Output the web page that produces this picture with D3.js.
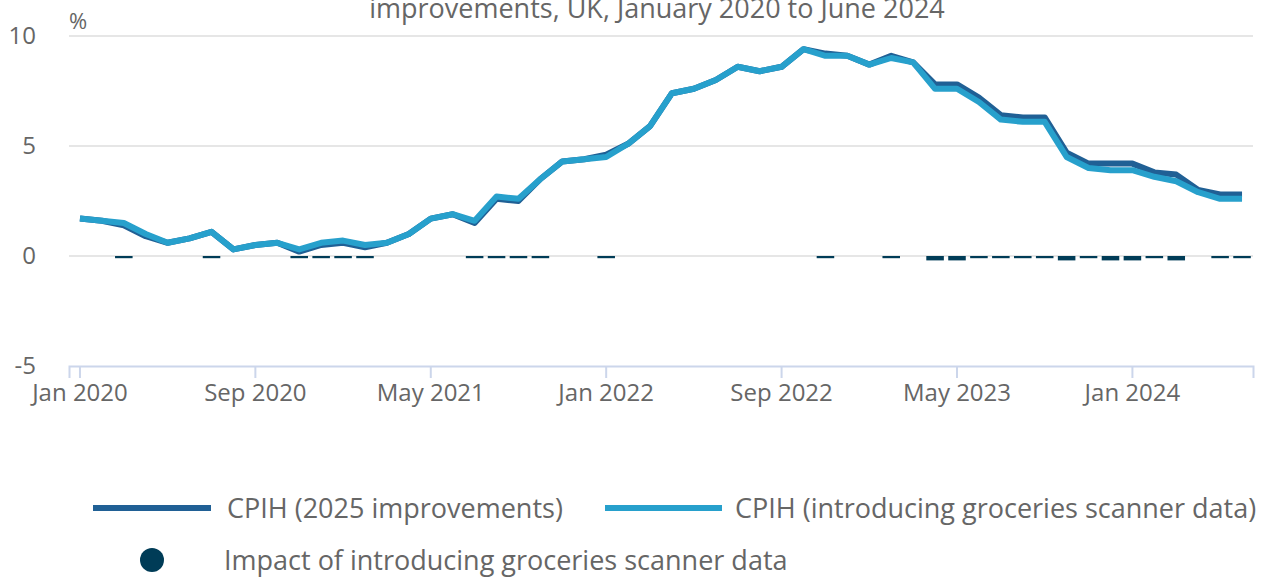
<!DOCTYPE html>
<meta charset="utf-8">
<head>
<style>
  body { margin: 0; background: #fff; }
  text { font-family: "Open Sans", sans-serif; fill: #666; }
</style>
</head>
<body>
<svg id="chart"></svg>
<script src="https://d3js.org/d3.v7.min.js"></script>
<script>

// months Jan 2020 .. Jun 2024
var monthNames = ["Jan","Feb","Mar","Apr","May","Jun","Jul","Aug","Sep","Oct","Nov","Dec"];
var months = [];
for (var yr = 2020; yr <= 2024; yr++) {
  for (var m = 0; m < 12; m++) {
    if (yr == 2024 && m > 5) break;
    months.push(monthNames[m] + " " + yr);
  }
}

var cpih2025 = [1.7, 1.6, 1.4, 0.9, 0.6, 0.8, 1.1, 0.3, 0.5, 0.6, 0.2, 0.5,
                0.6, 0.4, 0.6, 1.0, 1.7, 1.9, 1.5, 2.6, 2.5, 3.5, 4.3, 4.4,
                4.6, 5.1, 5.9, 7.4, 7.6, 8.0, 8.6, 8.4, 8.6, 9.4, 9.2, 9.1,
                8.7, 9.1, 8.8, 7.8, 7.8, 7.2, 6.4, 6.3, 6.3, 4.7, 4.2, 4.2,
                4.2, 3.8, 3.7, 3.0, 2.8, 2.8];

var cpihScanner = [1.7, 1.6, 1.5, 1.0, 0.6, 0.8, 1.1, 0.3, 0.5, 0.6, 0.3, 0.6,
                   0.7, 0.5, 0.6, 1.0, 1.7, 1.9, 1.6, 2.7, 2.6, 3.5, 4.3, 4.4,
                   4.5, 5.1, 5.9, 7.4, 7.6, 8.0, 8.6, 8.4, 8.6, 9.4, 9.1, 9.1,
                   8.7, 9.0, 8.8, 7.6, 7.6, 7.0, 6.2, 6.1, 6.1, 4.5, 4.0, 3.9,
                   3.9, 3.6, 3.4, 2.9, 2.6, 2.6];

var impact = [0, 0, -0.1, 0, 0, 0, -0.1, 0, 0, 0, -0.1, -0.1,
              -0.1, -0.1, 0, 0, 0, 0, -0.1, -0.1, -0.1, -0.1, 0, 0,
              -0.1, 0, 0, 0, 0, 0, 0, 0, 0, 0, -0.1, 0,
              0, -0.1, 0, -0.2, -0.2, -0.1, -0.1, -0.1, -0.1, -0.2, -0.1, -0.2,
              -0.2, -0.1, -0.2, 0, -0.1, -0.1];

var yTicks = [-5, 0, 5, 10];
var xTickEvery = 8;

var colDark = "#206095", colLight = "#27a0cc", colImpact = "#003c57";

var W = 1264, H = 580;
var svg = d3.select("#chart").attr("width", W).attr("height", H);

var x = d3.scaleBand()
    .domain(months)
    .range([69, 1253])
    .paddingInner(0.2)
    .paddingOuter(0.1);

var y = d3.scaleLinear()
    .domain([-5, 10])
    .range([366, 36]);

var cx = function(i) { return x(months[i]) + x.bandwidth() / 2; };

// title (only its second line shows, as in the source)
svg.append("text")
    .attr("x", 657).attr("y", 18)
    .attr("text-anchor", "middle")
    .style("font-size", "27px")
    .text("improvements, UK, January 2020 to June 2024");

// gridlines
svg.append("g").selectAll("line")
    .data(yTicks.filter(function(d) { return d != -5; }))
  .enter().append("line")
    .attr("x1", 69).attr("x2", 1253)
    .attr("y1", function(d) { return y(d); })
    .attr("y2", function(d) { return y(d); })
    .attr("stroke", "#e6e6e6")
    .attr("stroke-width", 2);

// y labels
svg.append("g").selectAll("text")
    .data(yTicks)
  .enter().append("text")
    .attr("x", 36)
    .attr("y", function(d) { return y(d) + 8; })
    .attr("text-anchor", "end")
    .style("font-size", "24px")
    .text(function(d) { return d; });

svg.append("text")
    .attr("x", 69).attr("y", 29)
    .style("font-size", "22px")
    .text("%");

// x axis
var xAxis = d3.axisBottom(x)
    .tickValues(months.filter(function(d, i) { return i % xTickEvery == 0; }))
    .tickSize(12)
    .tickPadding(6);

var gx = svg.append("g")
    .attr("transform", "translate(0," + y(-5) + ")")
    .call(xAxis);
gx.select(".domain").attr("stroke", "#ccd6eb").attr("stroke-width", 2);
gx.selectAll(".tick line").attr("stroke", "#ccd6eb").attr("stroke-width", 2);
gx.selectAll(".tick text")
    .style("font-size", "24px")
    .style("font-family", "Open Sans, sans-serif")
    .attr("fill", "#666");

// impact bars
svg.append("g").selectAll("rect")
    .data(impact)
  .enter().append("rect")
    .attr("x", function(d, i) { return x(months[i]); })
    .attr("width", x.bandwidth())
    .attr("y", function(d) { return Math.min(y(0), y(d)); })
    .attr("height", function(d) { return Math.abs(y(d) - y(0)); })
    .attr("fill", colImpact);

// lines
var line = d3.line()
    .x(function(d, i) { return cx(i); })
    .y(function(d) { return y(d); });

svg.append("path")
    .datum(cpih2025)
    .attr("d", line)
    .attr("fill", "none")
    .attr("stroke", colDark)
    .attr("stroke-width", 6)
    .attr("stroke-linejoin", "round");

svg.append("path")
    .datum(cpihScanner)
    .attr("d", line)
    .attr("fill", "none")
    .attr("stroke", colLight)
    .attr("stroke-width", 6)
    .attr("stroke-linejoin", "round");

// legend
var leg = svg.append("g");
leg.append("line").attr("x1", 93).attr("x2", 211).attr("y1", 508).attr("y2", 508)
    .attr("stroke", colDark).attr("stroke-width", 6);
leg.append("text").attr("x", 227).attr("y", 518).style("font-size", "27px")
    .text("CPIH (2025 improvements)");
leg.append("line").attr("x1", 605).attr("x2", 722).attr("y1", 508).attr("y2", 508)
    .attr("stroke", colLight).attr("stroke-width", 6);
leg.append("text").attr("x", 735).attr("y", 518).style("font-size", "27px")
    .text("CPIH (introducing groceries scanner data)");
leg.append("circle").attr("cx", 152).attr("cy", 560).attr("r", 12).attr("fill", colImpact);
leg.append("text").attr("x", 224).attr("y", 570).style("font-size", "27px")
    .text("Impact of introducing groceries scanner data");

</script>
</body>
